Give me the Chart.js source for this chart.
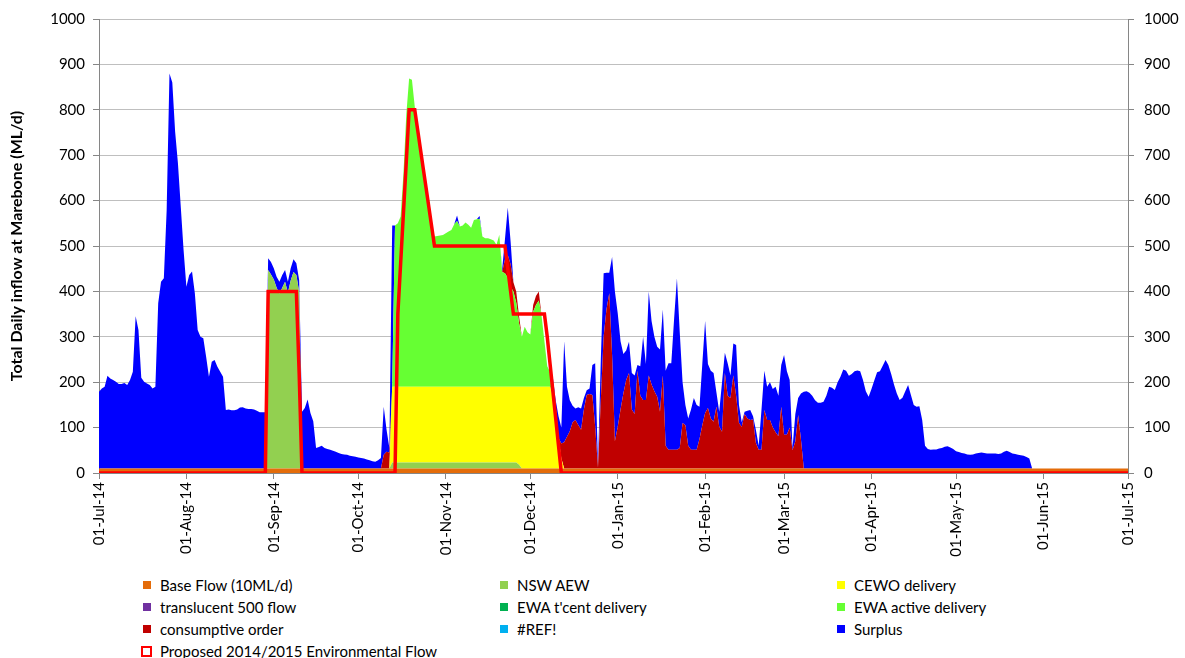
<!DOCTYPE html>
<html>
<head>
<meta charset="utf-8">
<title>Total Daily inflow at Marebone</title>
<script src="https://cdn.jsdelivr.net/npm/chart.js@4.4.1/dist/chart.umd.min.js"></script>
<style>
  body { margin: 0; background: #fff; font-family: Lato, "Liberation Sans", sans-serif; }
  #wrap { position: relative; width: 1185px; height: 658px; overflow: hidden; }
  #chart { position: absolute; left: 0; top: 0; }
  .item { position: absolute; display: flex; align-items: center; font-size: 15px; color: #000; white-space: nowrap; line-height: 18px; }
  .box { width: 8px; height: 8px; margin-right: 9px; }
  .hollow { width: 7px; height: 7px; border: 2px solid #ff0000; background: #fff; margin-right: 8px; }
</style>
</head>
<body>
<div id="wrap">
  <canvas id="chart" width="1185" height="570"></canvas>
  <div id="legend"></div>
</div>
<script>
// month ticks on the date axis (day 0 = 01-Jul-14)
var tickDays = [0, 31, 62, 92, 123, 153, 184, 215, 243, 274, 304, 335, 365];
var tickLabels = ['01-Jul-14', '01-Aug-14', '01-Sep-14', '01-Oct-14', '01-Nov-14', '01-Dec-14',
  '01-Jan-15', '01-Feb-15', '01-Mar-15', '01-Apr-15', '01-May-15', '01-Jun-15', '01-Jul-15'];

// daily values, ML/d, ten days per row
var baseFlow = [
  10,10,10,10,10,10,10,10,10,10, 10,10,10,10,10,10,10,10,10,10, 10,10,10,10,10,10,10,10,10,10,
  10,10,10,10,10,10,10,10,10,10, 10,10,10,10,10,10,10,10,10,10, 10,10,10,10,10,10,10,10,10,10,
  10,10,10,10,10,10,10,10,10,10, 10,10,10,10,10,10,10,10,10,10, 10,10,10,10,10,10,10,10,10,10,
  10,10,10,10,10,10,10,10,10,10, 10,10,10,10,10,10,10,10,10,10, 10,10,10,10,10,10,10,10,10,10,
  10,10,10,10,10,10,10,10,10,10, 10,10,10,10,10,10,10,10,10,10, 10,10,10,10,10,10,10,10,10,10,
  10,10,10,10,10,10,10,10,10,10, 10,10,10,10,10,10,10,10,10,10, 10,10,10,10,10,10,10,10,10,10,
  10,10,10,10,10,10,10,10,10,10, 10,10,10,10,10,10,10,10,10,10, 10,10,10,10,10,10,10,10,10,10,
  10,10,10,10,10,10,10,10,10,10, 10,10,10,10,10,10,10,10,10,10, 10,10,10,10,10,10,10,10,10,10,
  10,10,10,10,10,10,10,10,10,10, 10,10,10,10,10,10,10,10,10,10, 10,10,10,10,10,10,10,10,10,10,
  10,10,10,10,10,10,10,10,10,10, 10,10,10,10,10,10,10,10,10,10, 10,10,10,10,10,10,10,10,10,10,
  10,10,10,10,10,10,10,10,10,10, 10,10,10,10,10,10,10,10,10,10, 10,10,10,10,10,10,10,10,10,10,
  10,10,10,10,10,10,10,10,10,10, 10,10,10,10,10,10,10,10,10,10, 10,10,10,10,10,10,10,10,10,10,
  10,10,10,10,10,10
];

var nswAew = [
  0,0,0,0,0,0,0,0,0,0, 0,0,0,0,0,0,0,0,0,0, 0,0,0,0,0,0,0,0,0,0,
  0,0,0,0,0,0,0,0,0,0, 0,0,0,0,0,0,0,0,0,0, 0,0,0,0,0,0,0,0,0,0,
  437,427,416,398,385,398,411,387,414,433, 426,389,0,0,0,0,0,0,0,0, 0,0,0,0,0,0,0,0,0,0,
  0,0,0,0,0,0,0,0,0,0, 0,0,0,0,13,13,13,13,13,13, 13,13,13,13,13,13,13,13,13,13,
  13,13,13,13,13,13,13,13,13,13, 13,13,13,13,13,13,13,13,13,13, 13,13,13,13,13,13,13,13,13,8,
  0,0,0,0,0,0,0,0,0,0, 0,0,0,0,0,0,0,0,0,0, 0,0,0,0,0,0,0,0,0,0,
  0,0,0,0,0,0,0,0,0,0, 0,0,0,0,0,0,0,0,0,0, 0,0,0,0,0,0,0,0,0,0,
  0,0,0,0,0,0,0,0,0,0, 0,0,0,0,0,0,0,0,0,0, 0,0,0,0,0,0,0,0,0,0,
  0,0,0,0,0,0,0,0,0,0, 0,0,0,0,0,0,0,0,0,0, 0,0,0,0,0,0,0,0,0,0,
  0,0,0,0,0,0,0,0,0,0, 0,0,0,0,0,0,0,0,0,0, 0,0,0,0,0,0,0,0,0,0,
  0,0,0,0,0,0,0,0,0,0, 0,0,0,0,0,0,0,0,0,0, 0,0,0,0,0,0,0,0,0,0,
  0,0,0,0,0,0,0,0,0,0, 0,0,0,0,0,0,0,0,0,0, 0,0,0,0,0,0,0,0,0,0,
  0,0,0,0,0,0
];

var cewoDelivery = [
  0,0,0,0,0,0,0,0,0,0, 0,0,0,0,0,0,0,0,0,0, 0,0,0,0,0,0,0,0,0,0,
  0,0,0,0,0,0,0,0,0,0, 0,0,0,0,0,0,0,0,0,0, 0,0,0,0,0,0,0,0,0,0,
  0,0,0,0,0,0,0,0,0,0, 0,0,0,0,0,0,0,0,0,0, 0,0,0,0,0,0,0,0,0,0,
  0,0,0,0,0,0,0,0,0,0, 0,0,0,0,167,167,167,167,167,167, 167,167,167,167,167,167,167,167,167,167,
  167,167,167,167,167,167,167,167,167,167, 167,167,167,167,167,167,167,167,167,167, 167,167,167,167,167,167,167,167,167,172,
  180,180,180,180,180,180,180,180,180,180, 180,155,112,67,22,0,0,0,0,0, 0,0,0,0,0,0,0,0,0,0,
  0,0,0,0,0,0,0,0,0,0, 0,0,0,0,0,0,0,0,0,0, 0,0,0,0,0,0,0,0,0,0,
  0,0,0,0,0,0,0,0,0,0, 0,0,0,0,0,0,0,0,0,0, 0,0,0,0,0,0,0,0,0,0,
  0,0,0,0,0,0,0,0,0,0, 0,0,0,0,0,0,0,0,0,0, 0,0,0,0,0,0,0,0,0,0,
  0,0,0,0,0,0,0,0,0,0, 0,0,0,0,0,0,0,0,0,0, 0,0,0,0,0,0,0,0,0,0,
  0,0,0,0,0,0,0,0,0,0, 0,0,0,0,0,0,0,0,0,0, 0,0,0,0,0,0,0,0,0,0,
  0,0,0,0,0,0,0,0,0,0, 0,0,0,0,0,0,0,0,0,0, 0,0,0,0,0,0,0,0,0,0,
  0,0,0,0,0,0
];

var ewaActive = [
  0,0,0,0,0,0,0,0,0,0, 0,0,0,0,0,0,0,0,0,0, 0,0,0,0,0,0,0,0,0,0,
  0,0,0,0,0,0,0,0,0,0, 0,0,0,0,0,0,0,0,0,0, 0,0,0,0,0,0,0,0,0,0,
  0,0,0,0,0,0,0,0,0,0, 0,0,0,0,0,0,0,0,0,0, 0,0,0,0,0,0,0,0,0,0,
  0,0,0,0,0,0,0,0,0,0, 0,0,0,0,0,355,360,375,470,599, 679,676,617,555,507,470,433,389,353,331,
  332,333,334,338,342,345,358,365,353,355, 362,357,350,367,369,370,331,327,327,325, 322,313,335,253,250,240,220,210,185,140,
  110,132,120,115,165,180,190,155,100,45, 32,40,25,0,0,0,0,0,0,0, 0,0,0,0,0,0,0,0,0,0,
  0,0,0,0,0,0,0,0,0,0, 0,0,0,0,0,0,0,0,0,0, 0,0,0,0,0,0,0,0,0,0,
  0,0,0,0,0,0,0,0,0,0, 0,0,0,0,0,0,0,0,0,0, 0,0,0,0,0,0,0,0,0,0,
  0,0,0,0,0,0,0,0,0,0, 0,0,0,0,0,0,0,0,0,0, 0,0,0,0,0,0,0,0,0,0,
  0,0,0,0,0,0,0,0,0,0, 0,0,0,0,0,0,0,0,0,0, 0,0,0,0,0,0,0,0,0,0,
  0,0,0,0,0,0,0,0,0,0, 0,0,0,0,0,0,0,0,0,0, 0,0,0,0,0,0,0,0,0,0,
  0,0,0,0,0,0,0,0,0,0, 0,0,0,0,0,0,0,0,0,0, 0,0,0,0,0,0,0,0,0,0,
  0,0,0,0,0,0
];

var consumptive = [
  0,0,0,0,0,0,0,0,0,0, 0,0,0,0,0,0,0,0,0,0, 0,0,0,0,0,0,0,0,0,0,
  0,0,0,0,0,0,0,0,0,0, 0,0,0,0,0,0,0,0,0,0, 0,0,0,0,0,0,0,0,0,0,
  0,0,0,0,0,0,0,0,0,0, 0,0,0,0,0,0,0,0,0,0, 0,0,0,0,0,0,0,0,0,0,
  0,0,0,0,0,0,0,0,0,0, 0,30,37,35,0,0,0,0,0,0, 0,0,0,0,0,0,0,0,0,0,
  0,0,0,0,0,0,0,0,0,0, 0,0,0,0,0,0,0,0,0,0, 0,0,0,0,30,50,50,20,25,15,
  0,0,0,0,15,20,20,0,0,0, 0,0,0,0,33,58,70,82,102,107, 96,85,130,162,164,162,92,2,150,290,
  350,386,250,60,92,130,165,195,210,130, 120,215,160,151,151,205,185,170,158,125, 205,50,41,41,41,41,45,100,95,50,
  41,41,41,65,95,122,133,110,103,136, 92,81,210,160,155,205,160,100,92,120, 110,107,108,56,41,41,129,107,107,90,
  80,71,136,74,74,90,40,60,118,63, 0,0,0,0,0,0,0,0,0,0, 0,0,0,0,0,0,0,0,0,0,
  0,0,0,0,0,0,0,0,0,0, 0,0,0,0,0,0,0,0,0,0, 0,0,0,0,0,0,0,0,0,0,
  0,0,0,0,0,0,0,0,0,0, 0,0,0,0,0,0,0,0,0,0, 0,0,0,0,0,0,0,0,0,0,
  0,0,0,0,0,0,0,0,0,0, 0,0,0,0,0,0,0,0,0,0, 0,0,0,0,0,0,0,0,0,0,
  0,0,0,0,0,0
];

var surplus = [
  169,176,180,204,198,195,191,186,186,188, 184,195,213,335,305,200,191,187,184,176, 180,364,411,419,569,870,850,742,672,577,
  481,400,426,434,386,305,290,287,246,202, 235,239,224,213,202,129,130,128,128,130, 134,135,132,131,131,130,127,124,124,124,
  26,28,25,24,26,28,26,24,27,28, 26,26,125,133,152,122,104,45,47,50, 45,43,41,39,37,34,32,31,30,28,
  27,26,24,23,22,20,18,16,15,18, 23,106,48,10,355,0,0,0,0,0, 0,0,0,0,0,0,0,0,0,0,
  0,0,0,0,0,0,0,12,0,0, 0,0,0,0,0,6,0,0,0,0, 0,0,0,5,45,105,50,0,0,0,
  0,0,0,0,0,0,0,0,0,0, 0,5,13,48,35,222,110,68,36,25, 39,47,25,10,12,66,140,8,90,140,
  81,45,216,330,250,150,87,65,69,80, 85,13,65,139,79,185,140,120,110,137, 145,165,191,191,289,378,255,90,45,60,
  89,114,99,71,135,203,97,105,107,32, 33,109,45,72,50,70,112,40,10,5, 17,22,7,29,9,89,86,73,83,85,
  100,89,92,176,140,105,5,60,37,102, 169,170,167,160,150,145,145,147,160,180, 178,173,190,202,218,215,204,208,214,216,
  214,195,170,158,175,194,212,214,226,239, 228,208,185,165,151,156,170,184,162,140, 136,137,107,50,43,41,42,42,44,45,
  48,49,46,43,38,36,34,33,31,30, 31,33,34,35,34,33,33,33,33,32, 33,37,39,36,33,32,30,29,28,25,
  22,0,0,0,0,0,0,0,0,0, 0,0,0,0,0,0,0,0,0,0, 0,0,0,0,0,0,0,0,0,0,
  0,0,0,0,0,0
];

var proposedFlow = [
  0,0,0,0,0,0,0,0,0,0, 0,0,0,0,0,0,0,0,0,0, 0,0,0,0,0,0,0,0,0,0,
  0,0,0,0,0,0,0,0,0,0, 0,0,0,0,0,0,0,0,0,0, 0,0,0,0,0,0,0,0,0,0,
  400,400,400,400,400,400,400,400,400,400, 400,220,0,0,0,0,0,0,0,0, 0,0,0,0,0,0,0,0,0,0,
  0,0,0,0,0,0,0,0,0,0, 0,0,0,0,0,0,350,462,574,686, 800,800,800,757,714,671,629,586,543,500,
  500,500,500,500,500,500,500,500,500,500, 500,500,500,500,500,500,500,500,500,500, 500,500,500,500,500,450,400,350,350,350,
  350,350,350,350,350,350,350,350,350,300, 240,180,120,60,0,0,0,0,0,0, 0,0,0,0,0,0,0,0,0,0,
  0,0,0,0,0,0,0,0,0,0, 0,0,0,0,0,0,0,0,0,0, 0,0,0,0,0,0,0,0,0,0,
  0,0,0,0,0,0,0,0,0,0, 0,0,0,0,0,0,0,0,0,0, 0,0,0,0,0,0,0,0,0,0,
  0,0,0,0,0,0,0,0,0,0, 0,0,0,0,0,0,0,0,0,0, 0,0,0,0,0,0,0,0,0,0,
  0,0,0,0,0,0,0,0,0,0, 0,0,0,0,0,0,0,0,0,0, 0,0,0,0,0,0,0,0,0,0,
  0,0,0,0,0,0,0,0,0,0, 0,0,0,0,0,0,0,0,0,0, 0,0,0,0,0,0,0,0,0,0,
  0,0,0,0,0,0,0,0,0,0, 0,0,0,0,0,0,0,0,0,0, 0,0,0,0,0,0,0,0,0,0,
  0,0,0,0,0,0
];

// legend, row by row as in the original
var legendNames = ['Base Flow (10ML/d)', 'NSW AEW', 'CEWO delivery',
  'translucent 500 flow', "EWA t'cent delivery", 'EWA active delivery',
  'consumptive order', '#REF!', 'Surplus',
  'Proposed 2014/2015 Environmental Flow'];
var legendColors = ['#e46c0a', '#92d050', '#ffff00',
  '#7030a0', '#00b050', '#66ff33',
  '#c00000', '#00b0f0', '#0000ff',
  '#ff0000'];

var days = baseFlow.map(function(v, i) { return i; });

function area(label, values, color, fill) {
  return {
    label: label,
    data: values,
    backgroundColor: color,
    borderColor: color,
    borderWidth: 0,
    fill: fill,
    stack: 'flow',
    pointRadius: 0
  };
}

// plain numbers on the value axes, no thousands separator
function plain(v) { return String(v); }

var ctx = document.getElementById('chart').getContext('2d');
var chart = new Chart(ctx, {
  type: 'line',
  data: {
    labels: days,
    datasets: [
      area('Base Flow (10ML/d)', baseFlow, '#e46c0a', 'origin'),
      area('NSW AEW', nswAew, '#92d050', '-1'),
      area('CEWO delivery', cewoDelivery, '#ffff00', '-1'),
      area('EWA active delivery', ewaActive, '#66ff33', '-1'),
      area('consumptive order', consumptive, '#c00000', '-1'),
      area('Surplus', surplus, '#0000ff', '-1'),
      {
        label: 'Proposed 2014/2015 Environmental Flow',
        data: proposedFlow,
        borderColor: '#ff0000',
        borderWidth: 3.5,
        fill: false,
        stack: 'proposed',
        order: -1,
        pointRadius: 0
      }
    ]
  },
  options: {
    responsive: false,
    animation: false,
    events: [],
    layout: { padding: { top: 19, left: 0, right: 0, bottom: 0 } },
    elements: { line: { tension: 0 } },
    plugins: { legend: { display: false }, tooltip: { enabled: false } },
    scales: {
      x: {
        type: 'linear',
        min: 0,
        max: 365,
        afterBuildTicks: function(scale) {
          scale.ticks = tickDays.map(function(d) { return { value: d }; });
        },
        afterFit: function(scale) { scale.height = 97; },
        ticks: {
          autoSkip: false,
          maxRotation: 90,
          minRotation: 90,
          padding: 3,
          color: '#000',
          font: { family: 'Lato', size: 15 },
          callback: function(v) { return tickLabels[tickDays.indexOf(v)]; }
        },
        grid: { drawOnChartArea: false, tickLength: 6, color: '#868686' },
        border: { color: '#868686' }
      },
      y: {
        stacked: true,
        min: 0,
        max: 1000,
        afterFit: function(scale) { scale.width = 99; },
        ticks: { stepSize: 100, padding: 8, color: '#000', font: { family: 'Lato', size: 15 }, callback: plain },
        grid: { color: '#bfbfbf', tickColor: '#868686', tickLength: 6 },
        border: { color: '#868686' },
        title: {
          display: true,
          text: 'Total Daily inflow at Marebone (ML/d)',
          color: '#000',
          font: { family: 'Lato', size: 16, weight: 'bold' },
          padding: { top: 7, bottom: 0 }
        }
      },
      y2: {
        position: 'right',
        min: 0,
        max: 1000,
        afterFit: function(scale) { scale.width = 57; },
        ticks: { stepSize: 100, padding: 10, color: '#000', font: { family: 'Lato', size: 15 }, callback: plain },
        grid: { drawOnChartArea: false, tickLength: 6, color: '#868686' },
        border: { color: '#868686' }
      }
    }
  }
});

// html legend, three columns
var colX = [143, 500, 837];
var legend = document.getElementById('legend');
legendNames.forEach(function(name, i) {
  var item = document.createElement('div');
  item.className = 'item';
  item.style.left = (i === 9 ? colX[0] - 2 : colX[i % 3]) + 'px';
  item.style.top = (576 + Math.floor(i / 3) * 22) + 'px';
  var box = document.createElement('span');
  if (i === 9) {
    box.className = 'hollow';
  } else {
    box.className = 'box';
    box.style.background = legendColors[i];
  }
  item.appendChild(box);
  item.appendChild(document.createTextNode(name));
  legend.appendChild(item);
});
</script>
</body>
</html>
